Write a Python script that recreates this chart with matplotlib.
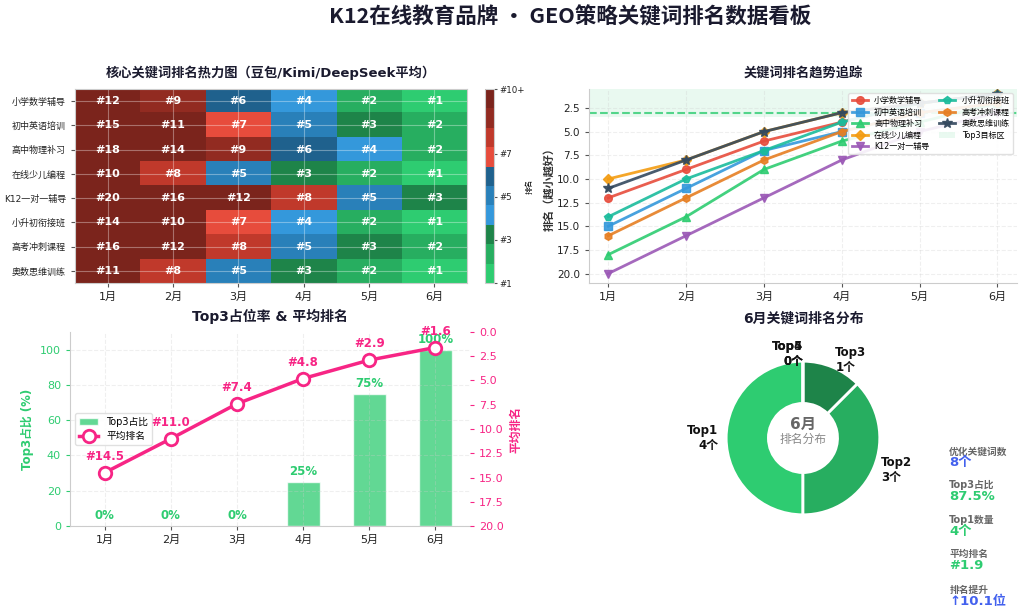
import matplotlib
matplotlib.use("Agg")
import matplotlib.pyplot as plt
import numpy as np
from matplotlib.colors import ListedColormap

plt.rcParams['font.family'] = ['DejaVu Sans', 'Noto Sans CJK SC']
plt.rcParams['axes.unicode_minus'] = False

# ---------------- data ----------------
months = ['1月', '2月', '3月', '4月', '5月', '6月']
keywords = ['小学数学辅导', '初中英语培训', '高中物理补习', '在线少儿编程',
            'K12一对一辅导', '小升初衔接班', '高考冲刺课程', '奥数思维训练']
rank_xiaoxue = [12, 9, 6, 4, 2, 1]
rank_chuzhong = [15, 11, 7, 5, 3, 2]
rank_gaozhong = [18, 14, 9, 6, 4, 2]
rank_biancheng = [10, 8, 5, 3, 2, 1]
rank_k12 = [20, 16, 12, 8, 5, 3]
rank_xiaoshengchu = [14, 10, 7, 4, 2, 1]
rank_gaokao = [16, 12, 8, 5, 3, 2]
rank_aoshu = [11, 8, 5, 3, 2, 1]
ranks = [rank_xiaoxue, rank_chuzhong, rank_gaozhong, rank_biancheng,
         rank_k12, rank_xiaoshengchu, rank_gaokao, rank_aoshu]

top3_share = [0, 0, 0, 25, 75, 100]
avg_rank = [14.5, 11.0, 7.4, 4.8, 2.9, 1.6]

dist_labels = ['Top1', 'Top2', 'Top3', 'Top4', 'Top5']
dist_counts = [4, 3, 1, 0, 0]

stat_labels = ['优化关键词数', 'Top3占比', 'Top1数量', '平均排名', '排名提升']
stat_values = ['8个', '87.5%', '4个', '#1.9', '↑10.1位']

cbar_ticks = [1, 3, 5, 7, 10]
cbar_ticklabels = ['#1', '#3', '#5', '#7', '#10+']

# ---------------- style ----------------
heat_colors = ['#2ecc71', '#27ae60', '#1e8449', '#3498db', '#2980b9',
               '#1f618d', '#e74c3c', '#c0392b', '#922b21', '#7b241c']
line_colors = ['#e74c3c', '#3498db', '#2ecc71', '#f39c12', '#9b59b6',
               '#1abc9c', '#e67e22', '#34495e']
markers = ['o', 's', '^', 'D', 'v', 'p', 'h', '*']
title_color = '#1a1a2e'
pink = '#f72585'
green = '#2ecc71'
blue = '#4361ee'
spine_c = '#cccccc'
cjk = ['Noto Sans CJK SC', 'DejaVu Sans']

fig = plt.figure(figsize=(10.24, 6.14), dpi=100)
fig.patch.set_facecolor('white')
fig.suptitle('K12在线教育品牌 · GEO策略关键词排名数据看板', fontsize=15.5,
             fontweight='bold', color=title_color, x=0.557, y=0.99,
             family=cjk)


def style_spines(ax, keep=('left', 'bottom')):
    for s in ['top', 'right', 'left', 'bottom']:
        if s in keep:
            ax.spines[s].set_color(spine_c)
        else:
            ax.spines[s].set_visible(False)


# ---------------- heatmap ----------------
ax1 = fig.add_axes([0.0732, 0.539, 0.383, 0.316])
data = np.array(ranks)
cmap = ListedColormap(heat_colors)
im = ax1.imshow(data, cmap=cmap, vmin=1, vmax=10, aspect='auto')
for i in range(data.shape[0]):
    for j in range(data.shape[1]):
        ax1.text(j, i, f'#{data[i, j]}', ha='center', va='center',
                 color='white', fontsize=8, fontweight='bold')
ax1.set_xticks(range(len(months)))
ax1.set_xticklabels(months, fontsize=8)
ax1.set_yticks(range(len(keywords)))
ax1.set_yticklabels(keywords, fontsize=6.5)
ax1.tick_params(axis='both', colors='#555555', labelcolor='#222222', length=3)
ax1.grid(True, color='white', alpha=0.35, linewidth=0.8)
for s in ax1.spines.values():
    s.set_color(spine_c)
ax1.set_title('核心关键词排名热力图（豆包/Kimi/DeepSeek平均）', fontsize=9.5,
              fontweight='bold', color=title_color, pad=9)

cax = fig.add_axes([0.4736, 0.539, 0.0088, 0.316])
cb = fig.colorbar(im, cax=cax)
cb.set_ticks(cbar_ticks)
cb.set_ticklabels(cbar_ticklabels)
cb.ax.tick_params(labelsize=6.2, length=2, pad=2, colors='#555555',
                  labelcolor='#222222')
cb.outline.set_edgecolor(spine_c)
cb.set_label('排名', fontsize=5.5, labelpad=0)

# ---------------- trend ----------------
ax2 = fig.add_axes([0.575, 0.539, 0.418, 0.316])
x = np.arange(len(months))
ax2.axhspan(0.5, 3.5, color=green, alpha=0.1, label='Top3目标区', lw=0)
ax2.axhline(3, color=green, linestyle='--', linewidth=1.5, alpha=0.8)
for k, r, c, m in zip(keywords, ranks, line_colors, markers):
    ms = 7.5 if m == '*' else 5.5
    ax2.plot(x, r, color=c, marker=m, markersize=ms, linewidth=2, label=k, alpha=0.9)
ax2.set_ylim(21, 0.5)
ax2.set_yticks(np.arange(2.5, 20.1, 2.5))
ax2.set_xticks(x)
ax2.set_xticklabels(months, fontsize=8)
ax2.tick_params(axis='y', labelsize=7.5)
ax2.tick_params(axis='both', colors='#555555', labelcolor='#222222', length=3)
ax2.set_ylabel('排名（越小越好）', fontsize=8, fontweight='bold', color='#333333',
               family=cjk, labelpad=1)
ax2.grid(True, alpha=0.3, linestyle='--', color='#cccccc')
style_spines(ax2)
ax2.set_title('关键词排名趋势追踪', fontsize=9.5, fontweight='bold',
              color=title_color, pad=9)
h, l = ax2.get_legend_handles_labels()
order = list(range(1, len(h))) + [0]
ax2.legend([h[i] for i in order], [l[i] for i in order], loc='upper right',
           ncol=2, fontsize=5.8, framealpha=0.9, edgecolor='#dddddd',
           borderpad=0.4, labelspacing=0.3, columnspacing=1.2, handlelength=2)

# ---------------- top3 & avg rank ----------------
ax3 = fig.add_axes([0.0684, 0.1433, 0.3906, 0.316])
bars = ax3.bar(x, top3_share, width=0.5, color=green, alpha=0.75,
               edgecolor='white', linewidth=1, label='Top3占比')
for xi, v in zip(x, top3_share):
    ax3.text(xi, v + 2, f'{v}%', ha='center', va='bottom', color=green,
             fontsize=8.5, fontweight='bold')
ax3.set_ylim(0, 110)
ax3.set_xticks(x)
ax3.set_xticklabels(months, fontsize=8)
ax3.tick_params(axis='y', colors=green, labelsize=8, length=3)
ax3.tick_params(axis='x', colors='#555555', labelcolor='#222222', length=3)
ax3.set_ylabel('Top3占比 (%)', fontsize=8.5, fontweight='bold', color=green)
ax3.grid(True, alpha=0.3, linestyle='--', color='#cccccc')
style_spines(ax3)
ax3.set_title('Top3占位率 & 平均排名', fontsize=10, fontweight='bold',
              color=title_color, pad=8)

ax3b = ax3.twinx()
ln, = ax3b.plot(x, avg_rank, color=pink, linewidth=2.5, marker='o',
                markersize=9, markerfacecolor='white', markeredgewidth=2,
                markeredgecolor=pink, label='平均排名')
for xi, v in zip(x, avg_rank):
    ax3b.annotate(f'#{v:.1f}', (xi, v), xytext=(0, 7), textcoords='offset points',
                  ha='center', va='bottom', color=pink, fontsize=8.5,
                  fontweight='bold')
ax3b.set_ylim(20, 0)
ax3b.set_yticks(np.arange(0, 20.1, 2.5))
ax3b.tick_params(axis='y', colors=pink, labelsize=8, length=3)
ax3b.set_ylabel('平均排名', fontsize=8.5, fontweight='bold', color=pink)
for s in ['top', 'right', 'left', 'bottom']:
    ax3b.spines[s].set_visible(False)
ax3.legend([bars, ln], ['Top3占比', '平均排名'], loc='center left', fontsize=7,
           framealpha=0.9, edgecolor='#dddddd')

# ---------------- donut ----------------
ax4 = fig.add_axes([0.6904, 0.1303, 0.1875, 0.3127])
pie_colors = ['#2ecc71', '#27ae60', '#1e8449', '#3498db', '#f39c12']
wedges, texts = ax4.pie(dist_counts,
                        labels=[f'{a}\n{b}个' for a, b in zip(dist_labels, dist_counts)],
                        colors=pie_colors, startangle=90,
                        wedgeprops=dict(width=0.55, edgecolor='white', linewidth=2),
                        textprops=dict(fontsize=8.5, fontweight='bold', color='#111111'))
ax4.text(0, 0.18, '6月', ha='center', va='center', fontsize=11,
         fontweight='bold', color='#666666')
ax4.text(0, -0.02, '排名分布', ha='center', va='center', fontsize=8.5,
         color='#888888')
ax4.set_title('6月关键词排名分布', fontsize=10, fontweight='bold',
              color=title_color, pad=14)

# ---------------- side stats ----------------
label_y = [0.265, 0.21, 0.153, 0.098, 0.04]
value_colors = [blue, green, green, green, blue]
for lab, val, y, c in zip(stat_labels, stat_values, label_y, value_colors):
    fig.text(0.927, y, lab, fontsize=7, fontweight='bold', color='#666666',
             va='center')
    fig.text(0.927, y - 0.019, val, fontsize=9.5, fontweight='bold', color=c,
             va='center')

fig.savefig('out.png', dpi=100, facecolor='white')
